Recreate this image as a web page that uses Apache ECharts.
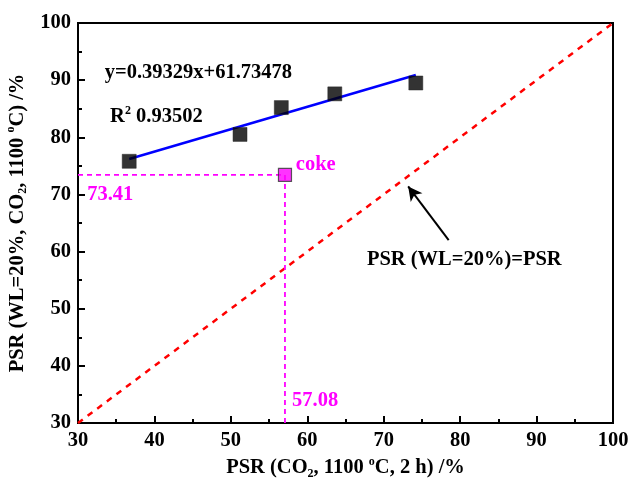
<!DOCTYPE html>
<html><head><meta charset="utf-8">
<script src="https://cdn.jsdelivr.net/npm/echarts@6/dist/echarts.min.js"></script>
<style>html,body{margin:0;padding:0;background:#fff}#c{width:633px;height:478px}</style>
</head><body><div id="c"></div>
<script>
// ---- data ----
const psrCO2 = [36.7, 51.2, 56.6, 63.6, 74.2];      // x: PSR (CO2, 1100 oC, 2 h)
const psrWL  = [75.8, 80.5, 85.2, 87.6, 89.5];      // y: PSR (WL=20%, CO2, 1100 oC)
const fitX = [36.7, 74.2];
const fitY = [76.2, 90.9];
const cokeX = [57.08];
const cokeY = [73.41];
const diagX = [30, 100];
const diagY = [30, 100];
const arrowFrom = [78.5, 62.0];
const arrowTo = [73.2, 71.4];
const axisMin = 30, axisMax = 100, axisStep = 10;

const FONT = '"Liberation Serif", "Times New Roman", serif';
const FS = 20.5;
const zip = (a, b) => a.map((v, i) => [v, b[i]]);

const chart = echarts.init(document.getElementById('c'), null, {renderer: 'canvas'});

const axisCommon = {
  type: 'value', min: axisMin, max: axisMax, interval: axisStep,
  axisLine: {show: true, onZero: false, lineStyle: {color: '#000', width: 2}},
  axisTick: {show: true, inside: true, length: 7, lineStyle: {color: '#000', width: 2}},
  minorTick: {show: true, splitNumber: 2, length: 4, lineStyle: {color: '#000', width: 2}},
  splitLine: {show: false},
  axisLabel: {color: '#000', fontFamily: FONT, fontWeight: 'bold', fontSize: FS, margin: 7}
};

const LH = 24;
const richName = {
  n: {fontFamily: FONT, fontWeight: 'bold', fontSize: FS, color: '#000', lineHeight: LH},
  sub: {fontFamily: FONT, fontWeight: 'bold', fontSize: 12, color: '#000', lineHeight: 10, verticalAlign: 'bottom'},
  sup: {fontFamily: FONT, fontWeight: 'bold', fontSize: 12, color: '#000', lineHeight: 10, verticalAlign: 'top'}
};

chart.setOption({
  animation: false,
  backgroundColor: '#fff',
  grid: {left: 78, top: 23, width: 535, height: 400, show: true, borderColor: '#000', borderWidth: 2,
    backgroundColor: 'transparent', containLabel: false, outerBoundsMode: 'none'},
  xAxis: Object.assign({}, axisCommon, {
    position: 'bottom',
    name: '{n|PSR (CO}{sub|2}{n|, 1100 }{sup|o}{n|C, 2 h) /%}',
    nameLocation: 'middle', nameGap: 31,
    nameTextStyle: {rich: richName}
  }),
  yAxis: Object.assign({}, axisCommon, {
    position: 'left',
    name: '{n|PSR (WL=20%, CO}{sub|2}{n|, 1100 }{sup|o}{n|C) /%}',
    nameLocation: 'middle', nameGap: 42,
    nameTextStyle: {rich: richName}
  }),
  series: [
    {type: 'line', data: zip(diagX, diagY), symbol: 'none', lineStyle: {color: '#ff0000', width: 2.5, type: [6, 6]}, z: 2},
    {type: 'line', data: [[axisMin, cokeY[0]], [cokeX[0], cokeY[0]]], symbol: 'none', lineStyle: {color: '#ff00ff', width: 1.8, type: [5, 4]}, z: 2},
    {type: 'line', data: [[cokeX[0], axisMin], [cokeX[0], cokeY[0]]], symbol: 'none', lineStyle: {color: '#ff00ff', width: 1.8, type: [5, 4]}, z: 2},
    {type: 'line', data: zip(fitX, fitY), symbol: 'none', lineStyle: {color: '#0000ff', width: 2.5}, z: 3},
    {type: 'scatter', data: zip(psrCO2, psrWL), symbol: 'rect', symbolSize: 14, itemStyle: {color: '#000', borderColor: '#222', borderWidth: 0.6}, z: 4},
    {type: 'scatter', data: zip(cokeX, cokeY), symbol: 'rect', symbolSize: 13, itemStyle: {color: '#ff00ff', borderColor: '#333', borderWidth: 1.2}, z: 4},
    {type: 'line', data: [], symbol: 'none',
      markLine: {silent: true, symbol: ['none', 'arrow'], symbolSize: [11, 14],
        lineStyle: {color: '#000', width: 2, type: 'solid'}, label: {show: false},
        data: [[{coord: arrowFrom}, {coord: arrowTo}]]}}
  ]
});

function px(x, y) { return chart.convertToPixel({gridIndex: 0}, [x, y]); }
const annRich = {
  n: {fontFamily: FONT, fontWeight: 'bold', fontSize: FS, fill: '#000', lineHeight: LH},
  sup: {fontFamily: FONT, fontWeight: 'bold', fontSize: 12, fill: '#000', lineHeight: 10, verticalAlign: 'top'}
};
const txt = (x, y, text, color, rich) => {
  const p = px(x, y);
  return {type: 'text', x: p[0], y: p[1], z: 10,
    style: {text: text, fill: color, font: 'bold ' + FS + 'px ' + FONT, verticalAlign: 'middle', rich: rich}};
};
chart.setOption({
  graphic: [
    txt(33.5, 91.3, 'y=0.39329x+61.73478', '#000'),
    txt(34.2, 83.6, '{n|R}{sup|2}{n| 0.93502}', '#000', annRich),
    txt(58.5, 75.2, 'coke', '#ff00ff'),
    txt(31.2, 69.9, '73.41', '#ff00ff'),
    txt(58.0, 33.9, '57.08', '#ff00ff'),
    txt(67.8, 58.5, 'PSR (WL=20%)=PSR', '#000')
  ]
});
</script>
</body></html>
